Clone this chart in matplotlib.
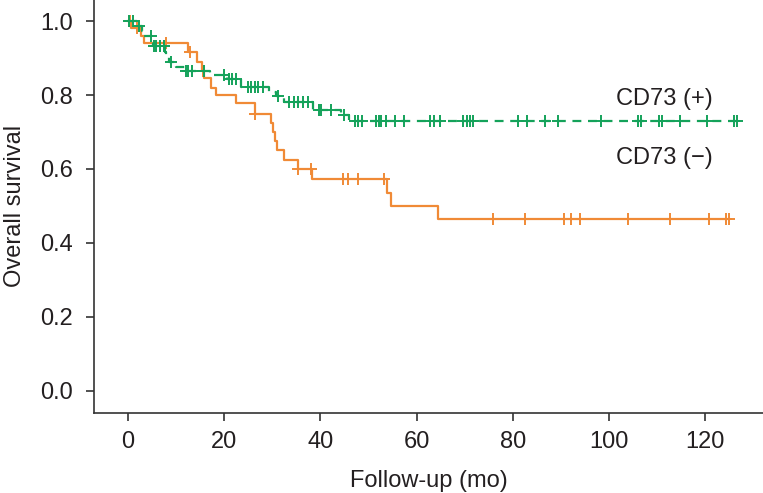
import matplotlib
matplotlib.use('Agg')
import matplotlib.pyplot as plt
import numpy as np

plt.rcParams['font.family'] = ['Liberation Sans', 'DejaVu Sans']

# CD73 (-) : event times and survival after each event, censor times
neg_t = [0.7, 2.8, 3.3, 12.5, 14.3, 15.3, 15.8, 17.2, 18.3, 22.4, 26.3, 29.7,
         30.2, 30.6, 31.0, 32.5, 35.3, 38.3, 53.9, 54.6, 64.5]
neg_s = [0.98, 0.96, 0.94, 0.917, 0.89, 0.865, 0.845, 0.82, 0.80, 0.778, 0.75,
         0.725, 0.70, 0.675, 0.65, 0.624, 0.60, 0.572, 0.534, 0.50, 0.465]
neg_cens = [0.4, 1.8, 7.9, 12.9, 15.6, 26.5, 35.4, 38.1, 44.7, 45.7, 47.8, 53.3,
            75.8, 82.6, 90.6, 92.1, 93.9, 103.9, 112.6, 120.7, 124.4, 124.9]

# CD73 (+)
pos_t = [1.8, 3.0, 3.4, 4.9, 5.2, 7.6, 7.9, 8.6, 10.0, 11.8, 17.0, 20.6, 23.5,
         29.4, 30.8, 32.5, 38.4, 44.2, 46.0]
pos_s = [0.987, 0.973, 0.96, 0.947, 0.933, 0.917, 0.904, 0.89, 0.877, 0.865,
         0.854, 0.842, 0.822, 0.809, 0.797, 0.78, 0.76, 0.746, 0.73]
pos_cens = [0.2, 1.0, 2.3, 4.7, 5.4, 5.9, 6.7, 7.4, 9.0, 12.0, 12.5, 13.4, 15.8,
            20.0, 21.0, 21.7, 22.4, 24.9, 25.6, 26.3, 27.0, 28.0, 31.1, 33.5,
            34.5, 35.3, 36.3, 37.4, 39.6, 40.1, 42.2, 44.9, 47.2, 47.9, 48.6,
            51.6, 52.2, 52.6, 53.7, 55.4, 57.4, 62.7, 63.7, 64.8, 69.7, 70.4,
            71.0, 71.8, 81.1, 82.9, 86.7, 89.3, 98.3, 106.1, 106.7, 110.3, 111.0,
            114.7, 120.4, 125.9, 126.5]

xticks = [0, 20, 40, 60, 80, 100, 120]
yticks = [0.0, 0.2, 0.4, 0.6, 0.8, 1.0]

orange = '#f08a36'
green = '#14a25a'
dark = '#231f20'


def km_path(t, s, cens):
    x = np.concatenate([[0], t, [max(cens[-1], t[-1])]])
    y = np.concatenate([[1.0], s, [s[-1]]])
    return x, y


def surv_at(t, s, when):
    idx = np.searchsorted(t, when, side='right')
    full = np.concatenate([[1.0], s])
    return full[idx]


fig = plt.figure(figsize=(7.63, 4.93), dpi=100)
ax = fig.add_axes([0.123, 0.163, 0.877, 0.837])

# CD73 (-)
x, y = km_path(neg_t, neg_s, neg_cens)
ax.step(x, y, where='post', color=orange, lw=1.6)
ax.plot(neg_cens, surv_at(neg_t, neg_s, neg_cens), '+', color=orange,
        ms=8, mew=1.4)

# CD73 (+)
x, y = km_path(pos_t, pos_s, pos_cens)
ax.step(x, y, where='post', color=green, lw=1.6, dashes=(4, 3))
ax.plot(pos_cens, surv_at(pos_t, pos_s, pos_cens), '+', color=green,
        ms=8, mew=1.4)

ax.text(101.5, 0.79, 'CD73 (+)', fontsize=17, color=dark, va='center')
ax.text(101.5, 0.63, 'CD73 (\u2212)', fontsize=17, color=dark, va='center')

ax.set_xlim(-7.1, 132)
ax.set_ylim(-0.059, 1.057)
ax.set_xticks(xticks)
ax.set_yticks(yticks)
ax.set_yticklabels(['%.1f' % v for v in yticks])
ax.set_xlabel('Follow-up (mo)', fontsize=17, color=dark, labelpad=12)
ax.set_ylabel('Overall survival', fontsize=17, color=dark, labelpad=10)

for side in ['top', 'right']:
    ax.spines[side].set_visible(False)
for side in ['left', 'bottom']:
    ax.spines[side].set_color('#333333')
    ax.spines[side].set_linewidth(1.2)
ax.tick_params(direction='out', length=6, width=1.2, color='#333333',
               labelsize=17, labelcolor=dark)
ax.tick_params(axis='y', pad=9)
ax.tick_params(axis='x', pad=7.5)

fig.savefig('out.png', dpi=100)
